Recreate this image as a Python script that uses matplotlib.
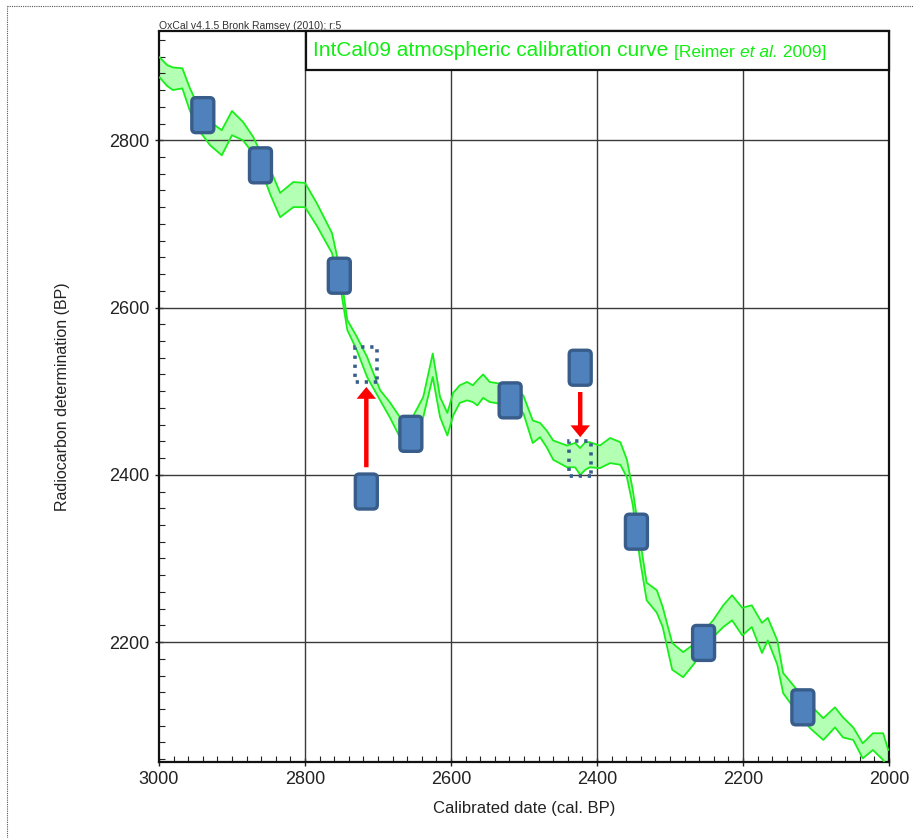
import matplotlib
matplotlib.use("Agg")
import matplotlib.pyplot as plt
from matplotlib.patches import FancyBboxPatch, Rectangle, FancyArrowPatch
from matplotlib.lines import Line2D
import numpy as np

plt.rcParams['font.family'] = ['Liberation Sans', 'DejaVu Sans']

# ---------------- data ----------------
cal_dates = [2999, 2989, 2981, 2968, 2958, 2947, 2930, 2914, 2900, 2885, 2871, 2859,
             2847, 2834, 2816, 2800, 2784, 2763, 2752, 2742, 2729, 2715, 2697, 2684,
             2670, 2655, 2638, 2625, 2615, 2605, 2597, 2588, 2578, 2570, 2564, 2556,
             2547, 2519, 2501, 2488, 2478, 2469, 2460, 2441, 2430, 2423, 2416, 2410,
             2396, 2382, 2368, 2359, 2351, 2341, 2332, 2318, 2310, 2297, 2282, 2268,
             2255, 2241, 2227, 2215, 2201, 2188, 2174, 2166, 2153, 2145, 2126, 2108,
             2090, 2074, 2063, 2049, 2036, 2022, 2008, 2001]
curve_upper = [2899, 2890, 2887, 2886, 2863, 2842, 2822, 2812, 2835, 2822, 2804, 2782,
               2764, 2737, 2750, 2749, 2725, 2689, 2645, 2585, 2565, 2541, 2501, 2487,
               2469, 2465, 2493, 2545, 2493, 2474, 2498, 2507, 2511, 2507, 2513, 2520,
               2511, 2507, 2495, 2465, 2462, 2453, 2441, 2435, 2438, 2432, 2439, 2439,
               2435, 2444, 2439, 2418, 2382, 2322, 2271, 2262, 2242, 2199, 2188, 2197,
               2212, 2226, 2244, 2256, 2241, 2244, 2223, 2229, 2202, 2163, 2143, 2125,
               2109, 2122, 2110, 2098, 2079, 2091, 2091, 2071]
curve_lower = [2875, 2865, 2860, 2862, 2836, 2814, 2794, 2782, 2806, 2800, 2784, 2762,
               2734, 2708, 2720, 2720, 2698, 2665, 2627, 2573, 2549, 2517, 2489, 2469,
               2445, 2435, 2469, 2517, 2469, 2447, 2471, 2486, 2489, 2487, 2483, 2492,
               2487, 2483, 2474, 2438, 2445, 2433, 2418, 2409, 2409, 2400, 2406, 2409,
               2408, 2414, 2412, 2397, 2364, 2298, 2250, 2235, 2218, 2167, 2158, 2173,
               2190, 2206, 2218, 2226, 2208, 2218, 2187, 2202, 2173, 2139, 2116, 2097,
               2083, 2098, 2086, 2083, 2061, 2071, 2059, 2047]

sample_dates = [2940, 2861, 2753, 2716, 2655, 2519, 2423, 2346, 2254, 2118]
sample_bp = [2830, 2770, 2638, 2380, 2449, 2489, 2528, 2332, 2199, 2122]

ghost_dates = [2716, 2423]
ghost_bp = [2532, 2420]

arrow_dates = [2716, 2423]
arrow_from = [2409, 2499]
arrow_to = [2505, 2445]

x_ticks = [3000, 2800, 2600, 2400, 2200, 2000]
y_ticks = [2200, 2400, 2600, 2800]

# ---------------- figure ----------------
W, H = 913, 838
fig = plt.figure(figsize=(W / 100, H / 100), dpi=100)
L, R, T, B = 159, 889, 31.5, 761.7
ax = fig.add_axes([L / W, 1 - B / H, (R - L) / W, (B - T) / H])
ax.set_xlim(3000, 2000)
ax.set_ylim(2057, 2930)

# calibration band
ax.fill_between(cal_dates, curve_lower, curve_upper, color='#b3ffb3', lw=0, zorder=1)
for arr_y in (curve_upper, curve_lower):
    ax.plot(cal_dates, arr_y, color='#1aee1a', lw=1.3, zorder=3,
            solid_joinstyle='round')

# grid
for xv in [2800, 2600, 2400, 2200]:
    ax.axvline(xv, color='#3a3a3a', lw=1.0, zorder=2)
for yv in y_ticks:
    ax.axhline(yv, color='#3a3a3a', lw=1.0, zorder=2)

# ticks
ax.set_xticks(x_ticks)
ax.set_yticks(y_ticks)
ax.set_xticks(np.arange(2000, 3001, 20), minor=True)
ax.set_yticks(np.arange(2060, 2930, 20), minor=True)
ax.tick_params(which='major', direction='inout', length=6, width=1.0, labelsize=13,
               colors='#222222', pad=4)
ax.tick_params(which='minor', direction='in', length=4, width=0.8, color='#222222')
for s in ax.spines.values():
    s.set_linewidth(1.6)
    s.set_color('#111111')

ax.set_xlabel('Calibrated date (cal. BP)', fontsize=12, color='#222222', labelpad=9)
ax.set_ylabel('Radiocarbon determination (BP)', fontsize=11.5, color='#222222', labelpad=28)

# sample boxes (pixel-size constants)
px_x = (3000 - 2000) / (R - L)
px_y = (2930 - 2057) / (B - T)
bw, bh = 22 * px_x, 35 * px_y
rad = 4.0 * px_x
for d, v in zip(sample_dates, sample_bp):
    p = FancyBboxPatch((d - bw / 2, v - bh / 2), bw, bh,
                       boxstyle=f"round,pad=0,rounding_size={rad}",
                       mutation_aspect=px_y / px_x,
                       fc='#4f81bd', ec='#385d8a', lw=2.4, zorder=5)
    ax.add_patch(p)

for d, v in zip(ghost_dates, ghost_bp):
    r = Rectangle((d - bw / 2, v - bh / 2), bw, bh, fill=False, ec='#385d8a',
                  lw=2.6, ls=(0, (0.9, 1.6)), zorder=5)
    ax.add_patch(r)

for d, a0, a1 in zip(arrow_dates, arrow_from, arrow_to):
    arr = FancyArrowPatch((d, a0), (d, a1),
                          arrowstyle='simple,head_length=0.85,head_width=1.4,tail_width=0.32',
                          mutation_scale=10, color='#ff0000', lw=0,
                          shrinkA=0, shrinkB=0, zorder=6)
    ax.add_patch(arr)

# title box
tb = Rectangle((0.2014, 0.9473), 0.7986, 0.0527, transform=ax.transAxes,
               fc='white', ec='#111111', lw=1.6, zorder=8, clip_on=False)
ax.add_patch(tb)
t1 = ax.text(0.2115, 0.9473 + 0.0527 / 2, 'IntCal09 atmospheric calibration curve ',
             transform=ax.transAxes, fontsize=15, color='#11ee11', va='center',
             ha='left', zorder=9)
t2 = ax.annotate('[Reimer ', xy=(1, 0), xycoords=t1, fontsize=12.5, color='#11ee11',
                 va='bottom', ha='left', zorder=9)
t3 = ax.annotate('et al.', xy=(1, 0), xycoords=t2, fontsize=12.5, color='#11ee11',
                 va='bottom', ha='left', style='italic', zorder=9)
t4 = ax.annotate(' 2009]', xy=(1, 0), xycoords=t3, fontsize=12.5, color='#11ee11',
                 va='bottom', ha='left', zorder=9)

fig.text(L / W, 1 - 26 / H, 'OxCal v4.1.5 Bronk Ramsey (2010); r:5', fontsize=7.5,
         color='#333333', ha='left', va='center')

# dotted outer frame
fy = 1 - 6.5 / H
fx = 7 / W
fig.add_artist(Line2D([fx, fx], [0, fy], transform=fig.transFigure, color='#555555',
                      lw=0.8, ls=(0, (1, 1))))
fig.add_artist(Line2D([fx, 1], [fy, fy], transform=fig.transFigure, color='#555555',
                      lw=0.8, ls=(0, (1, 1))))

fig.savefig('out.png', dpi=100)
